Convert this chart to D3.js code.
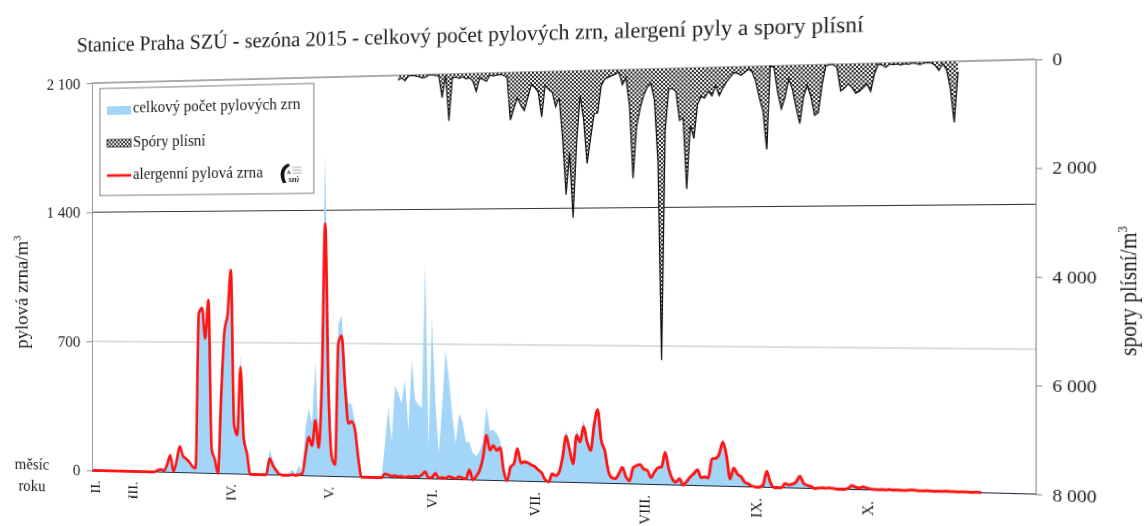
<!DOCTYPE html>
<html>
<head>
<meta charset="utf-8">
<script src="https://cdn.jsdelivr.net/npm/d3@7"></script>
<style>
  html, body { margin: 0; padding: 0; background: #fff; overflow: hidden; }
  /* the sheet is viewed slightly turned, so the right side sits closer */
  #stage {
    position: absolute; left: 0; top: 0; width: 1144px; height: 526px;
    transform-origin: 534px 277px;
    transform: perspective(1000px) rotateY(-7deg);
  }
  svg { overflow: visible; display: block; }
  text { font-family: "Liberation Serif", "Times New Roman", serif; fill: #1c1c1c; }
</style>
</head>
<body>
<div id="stage"></div>
<script>
// ---- data: daily values, Praha SZÚ station, season 2015 ----
const seasonStart = "2015-02-16";   // first day of the pollen series
const axisEnd     = "2015-11-14";   // last category on the time axis
const sporeStart  = "2015-05-22";   // first day of the mould-spore series

// total pollen count (grains / m3), one value per day from seasonStart
const pollenTotal = [
  0,0,0,0,0,0,0,0,0,0,0,0,0,0,0,0,0,0,0,0,0,
  10,15,15,45,100,10,65,150,95,80,
  62,40,30,870,900,740,940,150,85,5,
  440,780,870,1100,280,230,640,220,130,10,
  0,0,0,0,0,135,80,40,10,0,
  0,15,30,10,55,20,250,355,280,600,
  200,700,1700,600,110,70,800,850,500,390,
  380,290,120,0,0,0,0,0,0,0,
  180,371,190,484,440,390,511,250,617,410,
  385,366,1130,165,835,400,131,380,671,520,
  330,186,342,300,195,195,140,125,150,200,
  379,255,262,241,205,80,5,75,95,175,
  100,105,100,90,80,62,50,15,0,45,
  38,60,150,265,190,110,270,225,318,225,
  175,305,380,225,170,70,32,28,55,85,
  38,18,85,97,103,80,75,38,66,88,
  93,170,84,34,18,36,3,22,46,63,
  83,43,48,43,142,143,170,240,160,40,
  97,66,53,26,17,6,0,0,12,85,
  28,2,0,0,24,18,25,40,65,30,
  18,12,2,5,6,4,6,4,0,0,
  0,6,24,14,10,18,10,6,4,3,
  4,3,5,3,4,3,3,4,6,4,
  3,3,4,3,2,3,3,4,3,3,
  2,3,3,2,2,3,2
];

// allergenic pollen (grains / m3), same days
const pollenAllergenic = [
  0,0,0,0,0,0,0,0,0,0,0,0,0,0,0,0,0,0,0,0,0,
  10,15,10,40,92,5,60,140,90,75,
  58,35,25,855,882,720,926,130,75,0,
  420,760,850,1086,260,206,570,190,110,0,
  0,0,0,0,0,86,50,25,5,0,
  0,0,5,0,5,10,110,204,160,293,
  150,500,1330,450,100,62,700,740,480,280,
  290,250,100,0,0,0,0,0,0,0,
  20,15,10,12,8,10,5,10,8,12,
  10,20,37,5,8,30,5,8,5,15,
  10,5,15,8,5,52,0,20,50,118,
  232,155,180,155,170,52,0,70,90,167,
  93,100,95,85,77,60,45,10,0,41,
  33,51,128,236,165,95,242,207,287,208,
  165,296,374,219,167,65,29,25,50,82,
  35,15,81,93,99,77,71,35,63,85,
  90,165,81,31,15,33,0,20,43,60,
  80,40,45,40,137,138,162,221,154,37,
  93,63,50,23,15,5,0,0,10,80,
  25,0,0,0,21,15,20,30,60,25,
  15,10,0,3,5,3,5,3,0,0,
  0,5,20,12,8,15,8,5,3,2,
  3,2,4,2,3,2,2,3,5,3,
  2,2,3,2,1,2,2,3,2,2,
  1,2,2,1,1,2,1
];

// mould spores (spores / m3), one value per day from sporeStart
const moldSpores = [
  100,50,110,20,10,20,30,60,50,10,
  10,20,30,460,20,920,80,60,90,60,
  100,80,150,355,100,120,160,40,60,40,
  30,50,100,930,700,500,650,750,500,250,
  300,400,880,260,350,400,690,510,1300,2400,
  1600,2850,1400,480,950,1800,1300,840,820,300,
  170,140,110,80,40,290,150,700,2100,1100,
  750,500,350,280,600,1800,5600,1200,400,380,
  440,1000,950,2320,1100,1350,700,550,580,450,
  540,350,540,400,280,200,110,120,160,110,
  50,100,280,600,850,1580,0,30,500,820,
  600,250,450,800,1100,600,380,600,950,900,
  380,30,0,0,60,500,450,370,440,550,
  520,450,380,520,200,20,30,80,20,30,
  20,40,20,30,10,20,40,20,10,20,
  60,160,40,150,500,1130,200
];

const monthLabels = ["II.", "III.", "IV.", "V.", "VI.", "VII.", "VIII.", "IX.", "X."];
const monthDates  = ["2015-02-17", "2015-03-01", "2015-04-01", "2015-05-01", "2015-06-01",
                     "2015-07-01", "2015-08-01", "2015-09-01", "2015-10-01"];
const pollenTicks = [0, 700, 1400, 2100];
const sporeTicks  = [0, 2000, 4000, 6000, 8000];

const legendLabels = ["celkový počet pylových zrn", "Spóry plísní", "alergenní pylová zrna"];
const titleText = "Stanice Praha SZÚ - sezóna 2015 - celkový počet pylových zrn, alergení pyly a spory plísní";

// ---- layout ----
const W = 1144, H = 526;
const plot = { left: 63, right: 1010, top: 72, bottom: 481.5 };
const colors = { total: "#a3d5f8", allergenic: "#ff1414", spores: "#111", axis: "#8a8a8a" };

const parse = d3.utcParse("%Y-%m-%d");
const t0 = parse(seasonStart);
const s0 = parse(sporeStart);

const pollen = pollenTotal.map((v, i) => ({ date: d3.utcDay.offset(t0, i), total: v, allergenic: pollenAllergenic[i] }));
const spores = moldSpores.map((v, i) => ({ date: d3.utcDay.offset(s0, i), value: v }));

const x  = d3.scaleUtc().domain([t0, parse(axisEnd)]).range([plot.left, plot.right]);
const yL = d3.scaleLinear().domain([0, 2100]).range([plot.bottom, plot.top]);
const yR = d3.scaleLinear().domain([0, 8000]).range([plot.top, plot.bottom]);

const svg = d3.select("#stage").append("svg").attr("width", W).attr("height", H);

// stippled fill for the spore area
const defs = svg.append("defs");
const pat = defs.append("pattern").attr("id", "dots").attr("patternUnits", "userSpaceOnUse")
  .attr("width", 4).attr("height", 4);
pat.append("rect").attr("width", 4).attr("height", 4).attr("fill", "#f0f0f0");
pat.append("circle").attr("cx", 1).attr("cy", 1).attr("r", 1.05).attr("fill", "#141414");
pat.append("circle").attr("cx", 3).attr("cy", 3).attr("r", 1.05).attr("fill", "#141414");

// horizontal gridlines of the pollen scale
const gridStyle = { 2100: ["#555", 1], 1400: ["#333", 1], 700: ["#bdbdbd", 1.2] };
svg.append("g").selectAll("line").data(pollenTicks.filter(d => d > 0)).join("line")
  .attr("x1", plot.left).attr("x2", plot.right)
  .attr("y1", d => yL(d)).attr("y2", d => yL(d))
  .attr("stroke", d => gridStyle[d][0]).attr("stroke-width", d => gridStyle[d][1]);

// total pollen as a filled area
svg.append("path").datum(pollen)
  .attr("fill", colors.total)
  .attr("d", d3.area().x(d => x(d.date)).y0(yL(0)).y1(d => yL(d.total)));

// mould spores hang from the top on the reversed right scale
svg.append("path").datum(spores)
  .attr("fill", "url(#dots)")
  .attr("d", d3.area().x(d => x(d.date)).y0(yR(0)).y1(d => yR(d.value)));
svg.append("path").datum(spores)
  .attr("fill", "none").attr("stroke", colors.spores).attr("stroke-width", 1.2)
  .attr("d", d3.line().x(d => x(d.date)).y(d => yR(d.value)));

// baseline
svg.append("line").attr("x1", plot.left).attr("x2", plot.right)
  .attr("y1", yL(0)).attr("y2", yL(0)).attr("stroke", "#1d2a3a").attr("stroke-width", 1.1);

// allergenic pollen line
svg.append("path").datum(pollen)
  .attr("fill", "none").attr("stroke", colors.allergenic).attr("stroke-width", 2.8)
  .attr("stroke-linejoin", "round")
  .attr("d", d3.line().curve(d3.curveMonotoneX).x(d => x(d.date)).y(d => yL(d.allergenic)));

// axes
const fmt = d3.formatLocale({ decimal: ",", thousands: "\u00a0", grouping: [3], currency: ["", ""] }).format(",d");
function styleAxis(g, size) {
  g.attr("font-size", size).attr("font-family", null);
  g.select(".domain").attr("stroke", colors.axis);
  g.selectAll(".tick line").attr("stroke", colors.axis);
  g.selectAll(".tick text").attr("fill", "#1c1c1c");
}
svg.append("g").attr("transform", `translate(${plot.left},0)`)
  .call(d3.axisLeft(yL).tickValues(pollenTicks).tickSize(6).tickSizeOuter(0).tickPadding(7).tickFormat(fmt))
  .call(g => styleAxis(g, 17));
svg.append("g").attr("transform", `translate(${plot.right},0)`)
  .call(d3.axisRight(yR).tickValues(sporeTicks).tickSize(6).tickSizeOuter(0).tickPadding(9).tickFormat(fmt))
  .call(g => styleAxis(g, 17.5));

// month labels under the time axis
svg.append("g").selectAll("text").data(monthLabels).join("text")
  .attr("transform", (d, i) => `translate(${x(parse(monthDates[i])) + 5.5},492) rotate(-90)`)
  .attr("text-anchor", "end").attr("font-size", 15).text(d => d);

svg.append("text").attr("x", -5).attr("y", 482.5).attr("text-anchor", "middle").attr("font-size", 17).text("měsíc");
svg.append("text").attr("x", -5).attr("y", 505).attr("text-anchor", "middle").attr("font-size", 17).text("roku");

// axis titles
const lt = svg.append("text").attr("transform", "translate(-10,293) rotate(-90)")
  .attr("text-anchor", "middle").attr("font-size", 20);
lt.append("tspan").text("pylová zrna/m");
lt.append("tspan").attr("dy", -8).attr("font-size", 12).text("3");

const rt = svg.append("text").attr("transform", "translate(1099,290) rotate(-90)")
  .attr("text-anchor", "middle").attr("font-size", 20);
rt.append("tspan").text("spory plísní/m");
rt.append("tspan").attr("dy", -8).attr("font-size", 12).text("3");

// title
svg.append("text").attr("x", 46).attr("y", 38.5).attr("font-size", 22)
  .attr("transform", "rotate(0.2,46,38.5)").text(titleText);

// legend
const lg = svg.append("g");
lg.append("rect").attr("x", 72).attr("y", 78).attr("width", 234).attr("height", 113)
  .attr("fill", "#fff").attr("stroke", "#777").attr("stroke-width", 1);
lg.append("rect").attr("x", 80).attr("y", 97).attr("width", 27).attr("height", 9).attr("fill", colors.total);
lg.append("rect").attr("x", 80).attr("y", 132).attr("width", 27).attr("height", 8)
  .attr("fill", "url(#dots)").attr("stroke", "#222").attr("stroke-width", 0.8);
lg.append("line").attr("x1", 80).attr("x2", 107).attr("y1", 170).attr("y2", 170)
  .attr("stroke", colors.allergenic).attr("stroke-width", 2.8);
lg.selectAll("text.lab").data(legendLabels).join("text").attr("class", "lab")
  .attr("x", 109).attr("y", (d, i) => [104, 140, 174][i]).attr("font-size", 16.5).text(d => d);

// SZÚ emblem
const logo = lg.append("g").attr("transform", "translate(268,159)");
logo.append("path").attr("d", "M11,1 C3,3 0,12 5,21 L8.5,21 C5,13 6,6 12.5,3.5 Z").attr("fill", "#111");
logo.append("text").attr("x", 9).attr("y", 12).attr("font-size", 6).attr("font-weight", "bold")
  .attr("font-family", "Liberation Sans, Arial, sans-serif").text("A");
logo.selectAll("line").data([5, 8, 11]).join("line")
  .attr("x1", 15).attr("x2", 25).attr("y1", d => d).attr("y2", d => d)
  .attr("stroke", "#777").attr("stroke-width", 0.6);
logo.append("text").attr("x", 11).attr("y", 20.5).attr("font-size", 8.5).attr("font-weight", "bold")
  .attr("font-style", "italic").attr("font-family", "Liberation Sans, Arial, sans-serif").text("szú");
</script>
</body>
</html>
